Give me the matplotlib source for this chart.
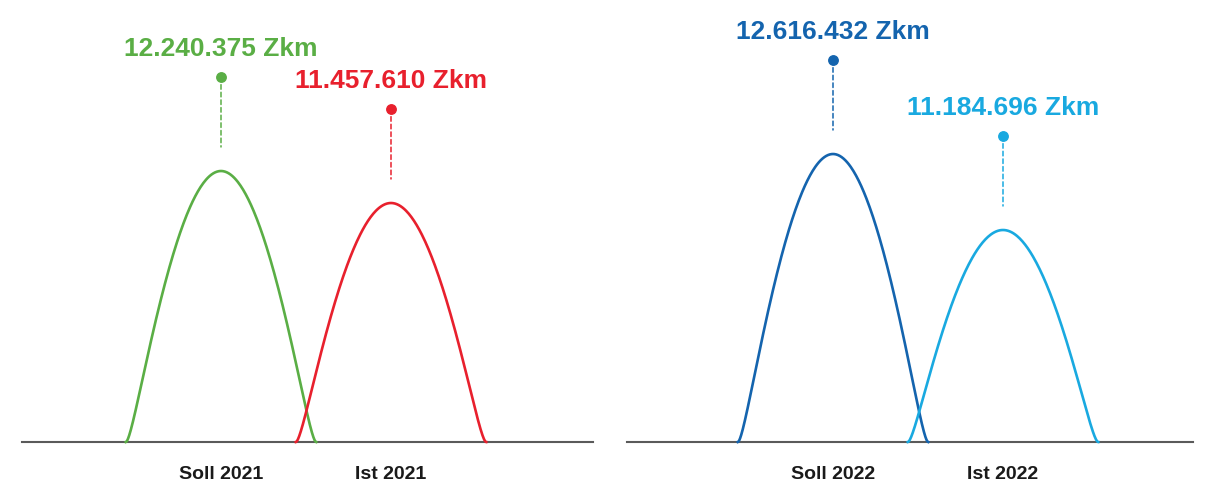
import numpy as np
import matplotlib.pyplot as plt
from matplotlib.transforms import ScaledTranslation

plt.rcParams['font.family'] = ['Liberation Sans', 'DejaVu Sans']

# data
categories_2021 = ["Soll 2021", "Ist 2021"]
values_2021 = [12240375, 11457610]
colors_2021 = ["#5aae45", "#e8202d"]

categories_2022 = ["Soll 2022", "Ist 2022"]
values_2022 = [12616432, 11184696]
colors_2022 = ["#1464ae", "#19a9e0"]

# visible range of each panel (the curves do not start at zero)
ylim_2021 = (5611335, 16447735)
ylim_2022 = (7190915, 15536415)


def fmt(v):
    return f"{v:,}".replace(",", ".") + " Zkm"


def px(p):
    # pixels -> points at dpi 100
    return p * 72 / 100


def bump(c1=0.1, c2=0.5, n=150):
    # one half of the hump as a cubic bezier, flat at foot and top
    s = np.linspace(0, 1, n)
    bx = 3 * (1 - s) ** 2 * s * c1 + 3 * (1 - s) * s ** 2 * (1 - c2) + s ** 3
    by = 3 * (1 - s) * s ** 2 + s ** 3
    x = np.concatenate([bx - 1, 1 - bx[::-1]])
    y = np.concatenate([by, by[::-1]])
    return x, y


def draw_panel(ax, cats, vals, cols, ylim, xlim):
    floor = ylim[0]
    half_w = 0.56
    bx, by = bump()
    for i, (cat, v, c) in enumerate(zip(cats, vals, cols)):
        ax.plot(i + bx * half_w, floor + (v - floor) * by, color=c, lw=1.9,
                clip_on=False, zorder=3)
        # dashed leader + dot
        ax.annotate("", xy=(i, v), xytext=(0, 94), textcoords="offset pixels",
                    arrowprops=dict(arrowstyle="-", linestyle=(0, (3, 2)), color=c,
                                    lw=1.1, shrinkA=0, shrinkB=px(24)))
        dot_tr = ax.transData + ScaledTranslation(0, 94 / 100, ax.figure.dpi_scale_trans)
        ax.plot([i], [v], "o", color=c, ms=6.8, clip_on=False, transform=dot_tr)
        ax.annotate(fmt(v), xy=(i, v), xytext=(0, 116), textcoords="offset pixels",
                    ha="center", va="baseline", fontsize=19, fontweight="bold", color=c)
        ax.annotate(cat, xy=(i, floor), xytext=(0, -36), textcoords="offset pixels",
                    ha="center", va="baseline", fontsize=14, fontweight="bold", color="#1a1a1a")
    ax.set_xlim(*xlim)
    ax.set_ylim(*ylim)
    ax.set_xticks([])
    ax.set_yticks([])
    for s in ["top", "left", "right"]:
        ax.spines[s].set_visible(False)
    ax.spines["bottom"].set_color("#5a5a5a")
    ax.spines["bottom"].set_linewidth(1.5)
    ax.patch.set_visible(False)


fig = plt.figure(figsize=(12.07, 4.81), dpi=100)
bottom = (481 - 443) / 481
height = 443 / 481
ax1 = fig.add_axes([22 / 1207, bottom, (593 - 22) / 1207, height])
ax2 = fig.add_axes([627 / 1207, bottom, (1193 - 627) / 1207, height])

draw_panel(ax1, categories_2021, values_2021, colors_2021, ylim_2021,
           ((22 - 221) / 170, (593 - 221) / 170))
draw_panel(ax2, categories_2022, values_2022, colors_2022, ylim_2022,
           ((627 - 833) / 170, (1193 - 833) / 170))

fig.savefig("out.png", dpi=100)
